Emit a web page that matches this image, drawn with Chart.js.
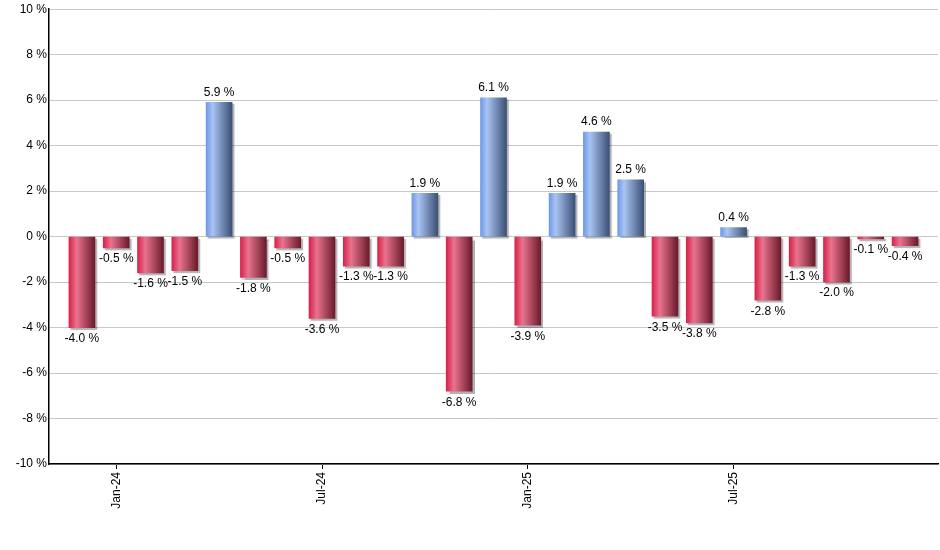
<!DOCTYPE html>
<html>
<head>
<meta charset="utf-8">
<script src="https://cdn.jsdelivr.net/npm/chart.js@4.4.0/dist/chart.umd.min.js"></script>
<style>
  html, body { margin: 0; padding: 0; background: #fff; }
  #wrap { width: 940px; height: 550px; }
</style>
</head>
<body>
<div id="wrap"><canvas id="myChart" width="940" height="550"></canvas></div>
<script>
// months Dec-23 .. Dec-25
const months = ['Dec-23','Jan-24','Feb-24','Mar-24','Apr-24','May-24','Jun-24','Jul-24','Aug-24','Sep-24','Oct-24','Nov-24',
                'Dec-24','Jan-25','Feb-25','Mar-25','Apr-25','May-25','Jun-25','Jul-25','Aug-25','Sep-25','Oct-25','Nov-25','Dec-25'];
const returns = [-4.0, -0.5, -1.6, -1.5, 5.9, -1.8, -0.5, -3.6, -1.3, -1.3, 1.9, -6.8,
                 6.1, -3.9, 1.9, 4.6, 2.5, -3.5, -3.8, 0.4, -2.8, -1.3, -2.0, -0.1, -0.4];
const tickMonths = ['Jan-24', 'Jul-24', 'Jan-25', 'Jul-25'];
const yTicks = [-10, -8, -6, -4, -2, 0, 2, 4, 6, 8, 10];

const ctx = document.getElementById('myChart').getContext('2d');
const barW = 26;

function barColor(c) {
    const chart = c.chart;
    const v = returns[c.dataIndex];
    if (!chart.chartArea || !chart.scales.x) return v >= 0 ? '#7fa3e8' : '#d8224a';
    const cx = chart.scales.x.getPixelForValue(c.dataIndex);
    const g = chart.ctx.createLinearGradient(cx - barW / 2, 0, cx + barW / 2, 0);
    if (v >= 0) {
        g.addColorStop(0, '#6e98e8');
        g.addColorStop(0.25, '#a9c4f2');
        g.addColorStop(1, '#3b5075');
    } else {
        g.addColorStop(0, '#d8224a');
        g.addColorStop(0.3, '#e9738e');
        g.addColorStop(1, '#6a1a2b');
    }
    return g;
}

const shadowPlugin = {
    id: 'shadow',
    beforeDatasetDraw(chart) {
        const c = chart.ctx;
        c.save();
        c.shadowColor = 'rgba(0,0,0,0.3)';
        c.shadowOffsetX = 2;
        c.shadowOffsetY = 2;
        c.shadowBlur = 1;
    },
    afterDatasetDraw(chart) {
        chart.ctx.restore();
    }
};

const labelPlugin = {
    id: 'barLabels',
    afterDatasetsDraw(chart) {
        const c = chart.ctx;
        const meta = chart.getDatasetMeta(0);
        c.save();
        c.font = '12px "Liberation Sans", Arial, sans-serif';
        c.fillStyle = '#000';
        c.textAlign = 'center';
        meta.data.forEach((bar, i) => {
            const v = returns[i];
            const txt = v.toFixed(1) + ' %';
            if (v >= 0) {
                c.textBaseline = 'bottom';
                c.fillText(txt, bar.x, bar.y - 4);
            } else {
                c.textBaseline = 'top';
                c.fillText(txt, bar.x, bar.y + 5);
            }
        });
        c.restore();
    }
};

const myChart = new Chart(ctx, {
    type: 'bar',
    data: {
        datasets: [{
            data: returns.map((v, i) => ({ x: i, y: v })),
            backgroundColor: barColor,
            borderWidth: 0,
            barThickness: barW
        }]
    },
    plugins: [shadowPlugin, labelPlugin],
    options: {
        responsive: false,
        animation: false,
        layout: { padding: { top: 9, right: 2, left: 0, bottom: 0 } },
        plugins: {
            legend: { display: false },
            tooltip: { enabled: false }
        },
        scales: {
            x: {
                type: 'linear',
                offset: false,
                min: -0.96,
                max: 24.96,
                afterBuildTicks: (scale) => {
                    scale.ticks = tickMonths.map(m => ({ value: months.indexOf(m) }));
                },
                afterFit: (scale) => { scale.height = 86; },
                ticks: {
                    autoSkip: false,
                    maxRotation: 90,
                    minRotation: 90,
                    color: '#000',
                    font: { family: '"Liberation Sans", Arial, sans-serif', size: 12 },
                    callback: (v) => months[v]
                },
                grid: {
                    offset: false,
                    drawOnChartArea: false,
                    color: '#000',
                    tickLength: 5
                },
                border: { color: '#000', width: 1.5 }
            },
            y: {
                min: -10,
                max: 10,
                afterBuildTicks: (scale) => {
                    scale.ticks = yTicks.map(v => ({ value: v }));
                },
                afterFit: (scale) => { scale.width = 49; },
                ticks: {
                    color: '#000',
                    padding: 2,
                    font: { family: '"Liberation Sans", Arial, sans-serif', size: 12 },
                    callback: (v) => v + ' %'
                },
                grid: {
                    color: '#c8c8c8',
                    drawTicks: false
                },
                border: { color: '#000', width: 1.5 }
            }
        }
    }
});
</script>
</body>
</html>
